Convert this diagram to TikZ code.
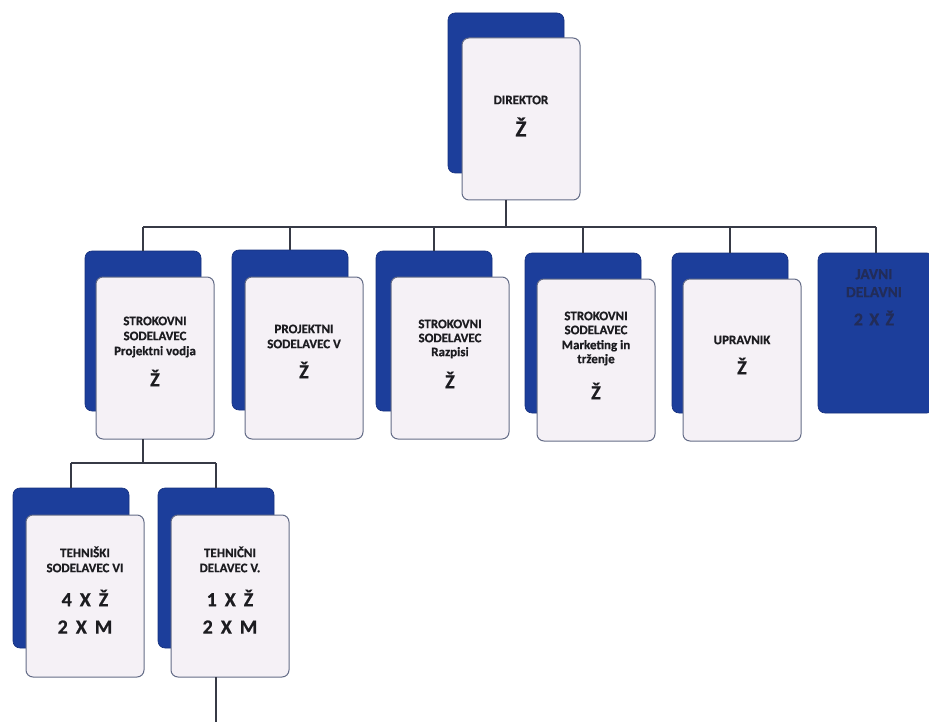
\documentclass[tikz,border=0pt]{standalone}
\usepackage{fontspec}
\setmainfont{Carlito}[BoldFeatures={FakeBold=0.6}]
\definecolor{dkblue}{RGB}{28,62,155}
\definecolor{dkedge}{RGB}{22,48,125}
\definecolor{ltfill}{RGB}{245,241,246}
\definecolor{ltdraw}{RGB}{100,108,135}
\definecolor{lncol}{RGB}{55,58,70}
\definecolor{txt}{RGB}{28,28,32}
\definecolor{javtxt}{RGB}{34,44,88}
\begin{document}
\begin{tikzpicture}[x=1pt,y=-1pt,
  darkcard/.style={fill=dkblue, draw=dkedge, line width=0.6pt, rounded corners=7pt,
    minimum width=116pt, minimum height=160pt, anchor=north west, inner sep=0pt, outer sep=0pt},
  lightcard/.style={fill=ltfill, draw=ltdraw, line width=1pt, rounded corners=7pt,
    minimum width=118pt, minimum height=162pt, anchor=north west, inner sep=0pt, outer sep=0pt},
  conn/.style={draw=lncol, line width=1.3pt},
  sm/.style={font=\fontsize{13}{15}\selectfont\bfseries, text=txt, inner sep=0pt,
    text height=0.64em, text depth=0.2em},
  bigz/.style={font=\fontsize{20}{22}\selectfont\bfseries, text=txt, inner sep=0pt},
  bigd/.style={font=\fontsize{23}{25}\selectfont\bfseries, text=txt, inner sep=0pt},
  bigc/.style={font=\fontsize{20}{22}\selectfont\bfseries, text=txt, inner sep=0pt},
  jav/.style={font=\fontsize{15.5}{17}\selectfont\bfseries, text=javtxt, inner sep=0pt,
    text height=0.64em, text depth=0.2em},
  javz/.style={font=\fontsize{18}{20}\selectfont\bfseries, text=javtxt, inner sep=0pt}
]
\useasboundingbox (0,0) rectangle (929,722);

% coordinates for the buses
\coordinate (bus) at (0,227);
\coordinate (bus2) at (0,463);
\coordinate (tail) at (0,722);

% dark back cards
\node[darkcard] (dirD) at (448,13) {};
\node[darkcard] (b1D) at (85,251) {};
\node[darkcard] (b2D) at (232,250) {};
\node[darkcard] (b3D) at (376,251) {};
\node[darkcard] (b4D) at (525,253) {};
\node[darkcard] (b5D) at (672,253) {};
\node[darkcard] (b6D) at (818,253) {};
\node[darkcard] (b7D) at (13,488) {};
\node[darkcard] (b8D) at (158,488) {};

% light front cards
\node[lightcard] (dirL) at (462,38) {};
\node[lightcard] (b1L) at (96,277) {};
\node[lightcard] (b2L) at (245,277) {};
\node[lightcard] (b3L) at (391,277) {};
\node[lightcard] (b4L) at (537,279) {};
\node[lightcard] (b5L) at (683,279) {};
\node[lightcard] (b7L) at (26,515) {};
\node[lightcard] (b8L) at (171,515) {};

% connectors
\draw[conn] (dirD.center |- dirL.south) -- (dirD.center |- bus);
\draw[conn] (b1D.north |- bus) -- (b6D.north |- bus);
\foreach \b in {b1D,b2D,b3D,b4D,b5D,b6D}{
  \draw[conn] (\b.north |- bus) -- (\b.north);
}
\draw[conn] (b1D.center |- b1L.south) -- (b1D.center |- bus2);
\draw[conn] (b7D.north |- bus2) -- (b8D.north |- bus2);
\draw[conn] (b7D.north |- bus2) -- (b7D.north);
\draw[conn] (b8D.north |- bus2) -- (b8D.north);
\draw[conn] (b8D.center |- b8L.south) -- (b8D.center |- tail);

% texts
\node[sm] (t0a) at (521,102) {DIREKTOR};
\node[bigd] (t0b) at (521,127) {Ž};

\node[sm] (t1a) at (155,323) {STROKOVNI};
\node[sm] (t1b) at (155,338) {SODELAVEC};
\node[sm] (t1c) at (155,353) {Projektni vodja};
\node[bigz] (t1d) at (155,378) {Ž};

\node[sm] (t2a) at (304,331) {PROJEKTNI};
\node[sm] (t2b) at (304,346) {SODELAVEC V};
\node[bigz] (t2c) at (304,370) {Ž};

\node[sm] (t3a) at (450,326) {STROKOVNI};
\node[sm] (t3b) at (450,340) {SODELAVEC};
\node[sm] (t3c) at (450,354) {Razpisi};
\node[bigz] (t3d) at (450,380) {Ž};

\node[sm] (t4a) at (596,318) {STROKOVNI};
\node[sm] (t4b) at (596,332) {SODELAVEC};
\node[sm] (t4c) at (596,347) {Marketing in};
\node[sm] (t4d) at (596,361) {trženje};
\node[bigz] (t4e) at (596,391) {Ž};

\node[sm] (t5a) at (742,342) {UPRAVNIK};
\node[bigz] (t5b) at (742,366) {Ž};

\node[jav] (t6a) at (874,277) {JAVNI};
\node[jav] (t6b) at (874,295) {DELAVNI};
\node[javz] (t6c) at (874,318) {2\hspace{0.35em}X\hspace{0.35em}Ž};

\node[sm] (t7a) at (85,555) {TEHNIŠKI};
\node[sm] (t7b) at (85,570) {SODELAVEC VI};
\node[bigc] (t7c) at (85,598) {4\hspace{0.4em}X\hspace{0.4em}Ž};
\node[bigc] (t7d) at (85,627) {2\hspace{0.4em}X\hspace{0.4em}M};

\node[sm] (t8a) at (230,555) {TEHNIČNI};
\node[sm] (t8b) at (230,570) {DELAVEC V.};
\node[bigc] (t8c) at (230,598) {1\hspace{0.4em}X\hspace{0.4em}Ž};
\node[bigc] (t8d) at (230,627) {2\hspace{0.4em}X\hspace{0.4em}M};
\end{tikzpicture}
\end{document}
